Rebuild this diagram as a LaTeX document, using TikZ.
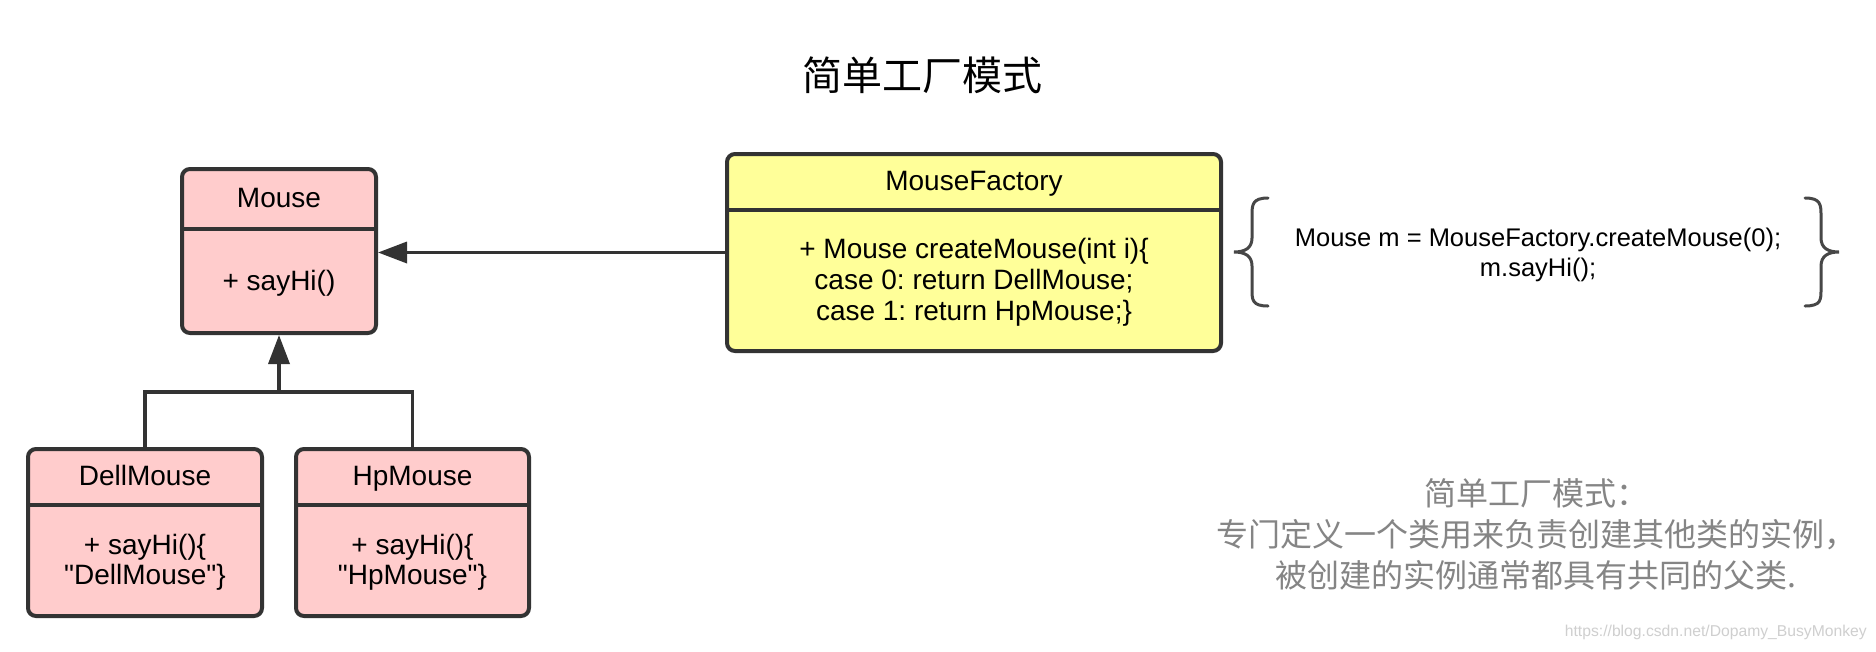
\documentclass[tikz,border=0pt]{standalone}
\usepackage{fontspec}
\setmainfont{Liberation Sans}[Ligatures=TeXOff]
\newfontfamily\cjk{Noto Sans CJK SC}
\usetikzlibrary{arrows.meta}
\frenchspacing
\definecolor{pinkfill}{HTML}{FFCCCC}
\definecolor{yellowfill}{HTML}{FFFF99}
\definecolor{edge}{HTML}{333333}
\definecolor{notegray}{HTML}{858585}
\definecolor{markgray}{HTML}{CFCFCF}
\tikzset{
  classbox/.style={draw=edge, line width=4pt, rounded corners=8pt, inner sep=0pt},
  divider/.style={draw=edge, line width=3.5pt},
  boxtext/.style={font=\fontsize{28}{31}\selectfont, align=center, inner sep=0pt, text=black},
  titletext/.style={boxtext, text height=20pt, text depth=6pt},
  conn/.style={draw=edge, line width=3.5pt},
  inherit/.style={conn, -{Triangle[length=29pt,width=21pt]}},
  bracestyle/.style={draw=edge!90, line width=3pt, line cap=round},
}
\begin{document}
\begin{tikzpicture}[x=1pt,y=-1pt]
\useasboundingbox (0,0) rectangle (1876,651);
\fill[white] (0,0) rectangle (1876,651);

\node[font=\cjk\fontsize{40}{40}\selectfont] (title) at (922,75) {简单工厂模式};

% Mouse
\node[classbox, fill=pinkfill, minimum width=194pt, minimum height=164pt] (mouse) at (279,251) {};
\draw[divider] (mouse.west |- 0,229) -- (mouse.east |- 0,229);
\node[titletext] (mousetitle) at (279,200) {Mouse};
\node[titletext] (mousebody) at (279,283) {+ sayHi()};

% MouseFactory
\node[classbox, fill=yellowfill, minimum width=494pt, minimum height=197pt] (factory) at (974,252.5) {};
\draw[divider] (factory.west |- 0,210) -- (factory.east |- 0,210);
\node[titletext] (factorytitle) at (974,183) {MouseFactory};
\node[boxtext] (factorybody) at (974,282) {+ Mouse createMouse(int i)\{\\case 0: return DellMouse;\\case 1: return HpMouse;\}};

% DellMouse
\node[classbox, fill=pinkfill, minimum width=234pt, minimum height=167pt] (dell) at (145,532.5) {};
\draw[divider] (dell.west |- 0,505) -- (dell.east |- 0,505);
\node[titletext] (delltitle) at (145,478) {DellMouse};
\node[boxtext, font=\fontsize{28}{30}\selectfont] (dellbody) at (145,562) {+ sayHi()\{\\"DellMouse"\}};

% HpMouse
\node[classbox, fill=pinkfill, minimum width=233pt, minimum height=167pt] (hp) at (412.5,532.5) {};
\draw[divider] (hp.west |- 0,505) -- (hp.east |- 0,505);
\node[titletext] (hptitle) at (412.5,478) {HpMouse};
\node[boxtext, font=\fontsize{28}{30}\selectfont] (hpbody) at (412.5,562) {+ sayHi()\{\\"HpMouse"\}};

% connectors
\coordinate (join) at (279,392);
\draw[conn] (dell.north) -- (dell.north |- join) -- (hp.north |- join) -- (hp.north);
\draw[inherit] (join) -- (mouse.south);
\draw[inherit] (factory.west) -- (factory.west -| mouse.east);

% usage with braces
\node[font=\fontsize{25.5}{30}\selectfont, align=center, inner sep=0pt] (usage) at (1538,255) {Mouse m = MouseFactory.createMouse(0);\\m.sayHi();};
\draw[bracestyle] (1268,198) .. controls (1252,198) and (1252,205) .. (1252,216) -- (1252,238)
  .. controls (1252,248) and (1245,252) .. (1234,252)
  .. controls (1245,252) and (1252,256) .. (1252,266) -- (1252,289)
  .. controls (1252,300) and (1252,306) .. (1268,306);
\draw[bracestyle] (1805,198) .. controls (1821,198) and (1821,205) .. (1821,216) -- (1821,238)
  .. controls (1821,248) and (1828,252) .. (1839,252)
  .. controls (1828,252) and (1821,256) .. (1821,266) -- (1821,289)
  .. controls (1821,300) and (1821,306) .. (1805,306);

% note
\node[font=\cjk\fontsize{32}{41}\selectfont, text=notegray, align=center, inner sep=0pt] (note) at (1536,534) {简单工厂模式：\\专门定义一个类用来负责创建其他类的实例，\\被创建的实例通常都具有共同的父类.};

\node[font=\fontsize{15.7}{16}\selectfont, text=markgray, anchor=east, inner sep=0pt] (mark) at (1867,632) {https://blog.csdn.net/Dopamy\_BusyMonkey};
\end{tikzpicture}
\end{document}
